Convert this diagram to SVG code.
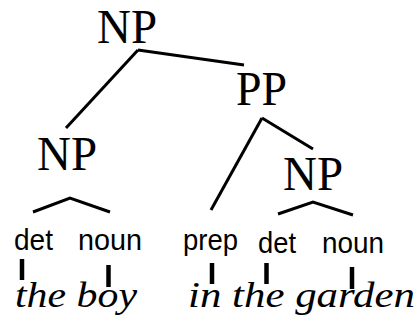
<svg xmlns="http://www.w3.org/2000/svg" width="418" height="324" viewBox="0 0 418 324">
<style>
.cat{font-family:"Liberation Serif","Times New Roman",serif;font-size:49px;fill:#000}
.pos{font-family:"Liberation Sans",Arial,sans-serif;font-size:30px;fill:#000}
.word{font-family:"Liberation Serif","Times New Roman",serif;font-style:italic;font-size:36px;fill:#000}
.edge{stroke:#000;stroke-width:3;fill:none}
.tick{stroke:#000;stroke-width:4.5}
</style>
<rect width="418" height="324" fill="#fff"/>
<g id="connectors">
<line class="edge" x1="138" y1="50" x2="244" y2="65"/>
<line class="edge" x1="138" y1="50" x2="66" y2="128"/>
<line class="edge" x1="262" y1="118" x2="211" y2="210"/>
<line class="edge" x1="262" y1="118" x2="313" y2="149"/>
<polyline class="edge" points="33,212 70,198 110,212"/>
<polyline class="edge" points="278,214 313,202 353,215"/>
<line class="tick" x1="22" y1="259" x2="22" y2="280"/>
<line class="tick" x1="108.5" y1="265" x2="108.5" y2="287"/>
<line class="tick" x1="212" y1="263" x2="212" y2="284"/>
<line class="tick" x1="266.5" y1="263" x2="266.5" y2="284"/>
<line class="tick" x1="352" y1="267" x2="352" y2="289"/>
</g>
<g id="np-top"><text class="cat" x="97" y="43" textLength="60" lengthAdjust="spacingAndGlyphs">NP</text></g>
<g id="pp"><text class="cat" x="236" y="105" textLength="51" lengthAdjust="spacingAndGlyphs">PP</text></g>
<g id="np-left"><text class="cat" x="37" y="170" textLength="60" lengthAdjust="spacingAndGlyphs">NP</text></g>
<g id="np-right"><text class="cat" x="283" y="190" textLength="60" lengthAdjust="spacingAndGlyphs">NP</text></g>
<g id="det-left"><text class="pos" x="14" y="250" textLength="39" lengthAdjust="spacingAndGlyphs">det</text></g>
<g id="noun-left"><text class="pos" x="78" y="250" textLength="64" lengthAdjust="spacingAndGlyphs">noun</text></g>
<g id="prep"><text class="pos" x="183" y="250" textLength="55" lengthAdjust="spacingAndGlyphs">prep</text></g>
<g id="det-right"><text class="pos" x="258" y="253" textLength="38" lengthAdjust="spacingAndGlyphs">det</text></g>
<g id="noun-right"><text class="pos" x="322" y="253" textLength="62" lengthAdjust="spacingAndGlyphs">noun</text></g>
<g id="the-boy"><text class="word" x="15" y="307" textLength="122" lengthAdjust="spacingAndGlyphs">the boy</text></g>
<g id="in-the-garden"><text class="word" x="188" y="307" textLength="227" lengthAdjust="spacingAndGlyphs">in the garden</text></g>
</svg>
